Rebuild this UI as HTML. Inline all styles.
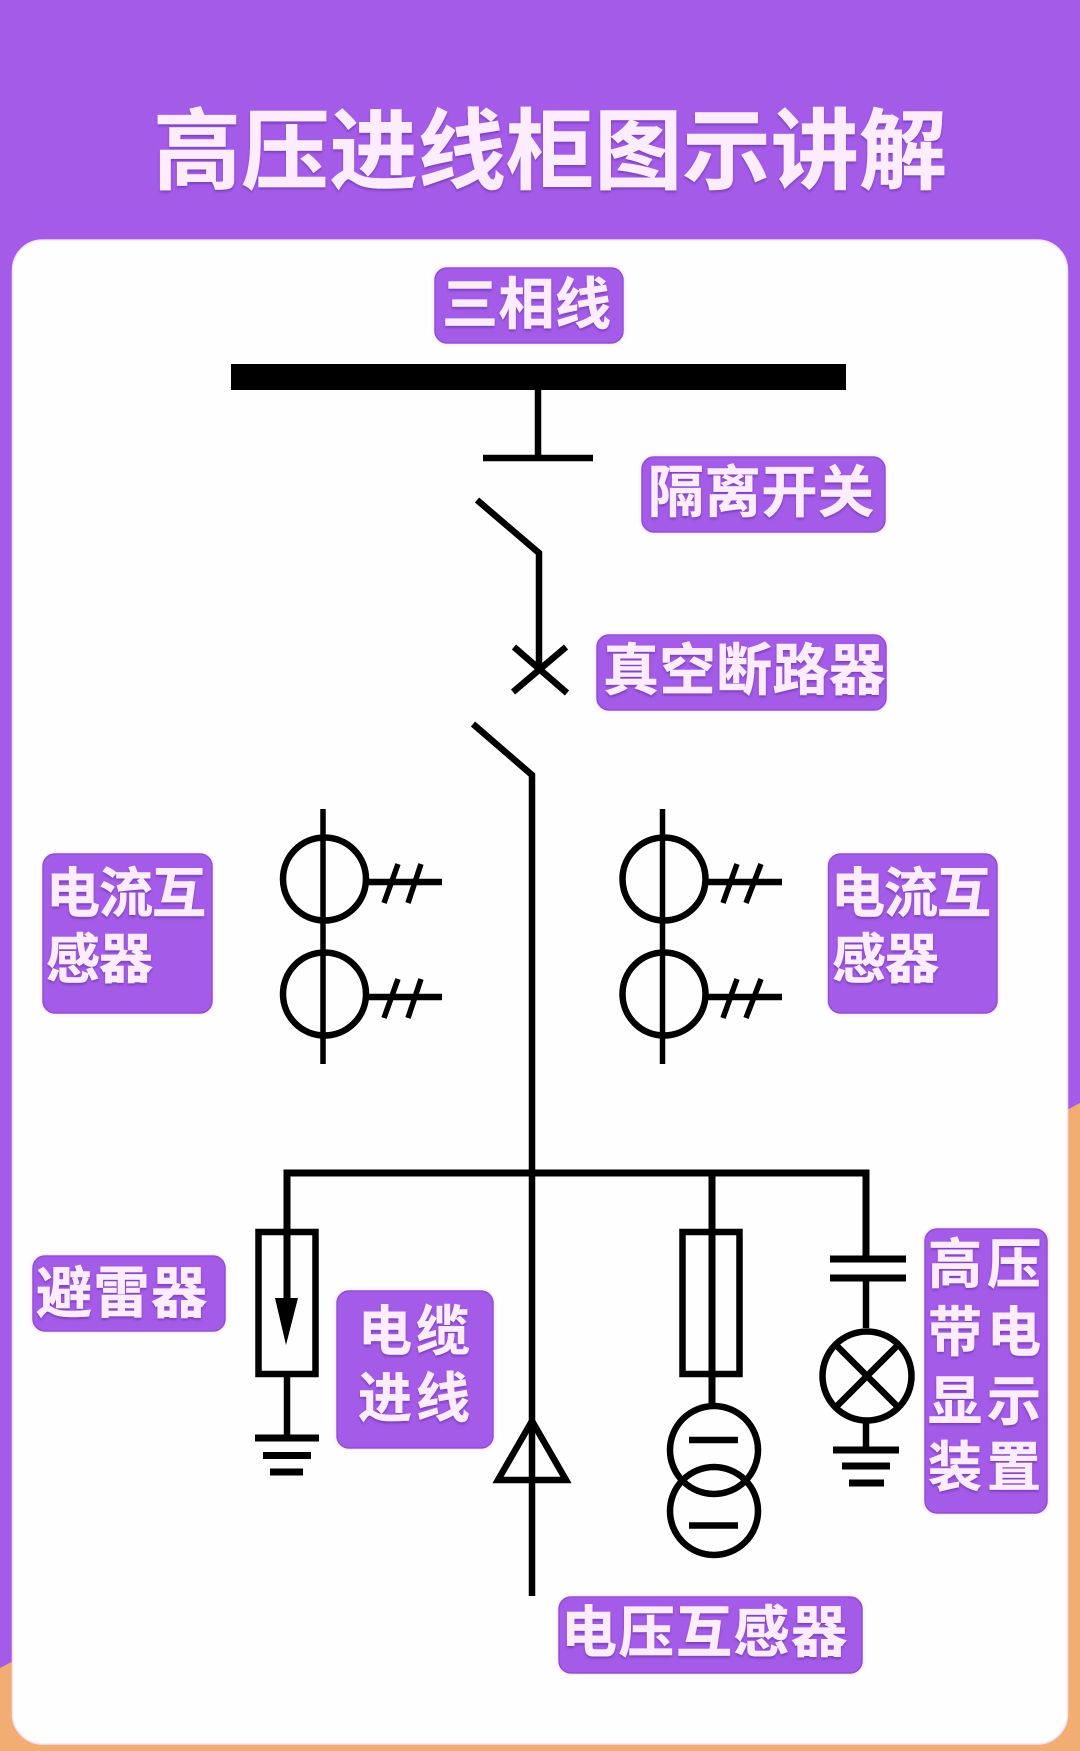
<!DOCTYPE html>
<html lang="zh"><head><meta charset="utf-8"><title>高压进线柜图示讲解</title>
<style>
html,body{margin:0;padding:0;background:#a45ce8;width:1080px;height:1751px;overflow:hidden}
svg{display:block}
text{font-family:"Liberation Sans","Noto Sans CJK SC","WenQuanYi Zen Hei",sans-serif;font-weight:700;fill:#fcecfe;paint-order:stroke;stroke:#fcecfe;stroke-width:.5px}
.l{fill:#a45ce8;stroke:#8d4fd0;stroke-width:1.5;filter:url(#g)}
.w{fill:none;stroke:#000;stroke-width:6.500;stroke-linejoin:miter}
.t{filter:url(#s)}
</style></head><body>
<svg width="1080" height="1751" viewBox="0 0 1080 1751" xmlns="http://www.w3.org/2000/svg">
<defs>
<filter id="g" x="-10%" y="-10%" width="120%" height="120%"><feDropShadow dx="0" dy="0" stdDeviation="2" flood-color="#f3d4ff"/></filter>
<filter id="s" x="-5%" y="-10%" width="110%" height="125%"><feDropShadow dx="0" dy="2" stdDeviation="1.2" flood-color="#6b35a8" flood-opacity=".75"/></filter>
</defs>
<rect width="1080" height="1751" fill="#a45ce8"/>
<polygon points="0,1668 1080,1103 1080,1751 0,1751" fill="#f2ae72"/>
<rect x="12.500" y="240" width="1055" height="1504" rx="30" fill="#fefefe" stroke="#f4e2fb" stroke-width="1.500"/>

<text class="t" x="153" y="182" font-size="88" textLength="794">高压进线柜图示讲解</text>

<rect class="l" x="435" y="268" width="188" height="75" rx="12"/>
<text class="t" x="442" y="324" font-size="56" textLength="169">三相线</text>

<rect x="231" y="364" width="615" height="26" fill="#000"/>
<path class="w" d="M538 390V458M483 458H593"/>
<path class="w" d="M477 500L539 553V668M514 647L567 693M513 692L566 647"/>
<path class="w" d="M473 724L532 775V1596"/>

<rect class="l" x="642" y="457" width="243" height="75" rx="12"/>
<text class="t" x="648" y="512" font-size="56" textLength="226">隔离开关</text>
<rect class="l" x="597" y="635" width="289" height="75" rx="12"/>
<text class="t" x="603" y="690" font-size="56" textLength="282">真空断路器</text>

<g>
<path class="w" style="stroke-width:5.500" d="M323 809V1064"/>
<circle class="w" cx="324.500" cy="879" r="41.500"/>
<circle class="w" cx="324.500" cy="994" r="41.500"/>
<path class="w" d="M368 882H442M368 997H442"/>
<path class="w" style="stroke-width:5.500" d="M398 864L384 903M421 864L408 903M398 979L384 1018M421 979L408 1018"/>
</g>
<g>
<path class="w" style="stroke-width:5.500" d="M662.500 809V1064"/>
<circle class="w" cx="664" cy="879" r="41.500"/>
<circle class="w" cx="664" cy="994" r="41.500"/>
<path class="w" d="M708 882H782M708 997H782"/>
<path class="w" style="stroke-width:5.500" d="M737 864L723 903M761 864L746 903M737 979L723 1018M761 979L746 1018"/>
</g>

<rect class="l" x="43" y="854" width="169" height="159" rx="12"/>
<text class="t" x="46" y="912" font-size="54" textLength="160">电流互</text>
<text class="t" x="46" y="978" font-size="54" textLength="107">感器</text>
<rect class="l" x="828.500" y="854" width="168.500" height="159" rx="12"/>
<text class="t" x="831" y="912" font-size="54" textLength="160">电流互</text>
<text class="t" x="832" y="978" font-size="54" textLength="107">感器</text>

<path class="w" style="stroke-width:7" d="M287 1298V1173H866V1259M712 1173V1403"/>
<rect class="w" x="258.500" y="1232" width="57" height="142"/>
<polygon points="275,1298 298,1298 286,1345" fill="#000"/>
<path class="w" d="M287 1377V1438"/>
<path class="w" style="stroke-width:7" d="M255 1438H319M263 1455.500H311M270 1472H303"/>

<polygon class="w" points="532,1421 566,1480 498,1480"/>

<rect class="w" x="682.500" y="1232" width="57" height="142"/>
<circle class="w" cx="714" cy="1450" r="44"/>
<circle class="w" cx="714" cy="1511" r="44"/>
<path class="w" d="M689 1440H738M689 1525.500H738"/>

<path class="w" style="stroke-width:7" d="M830 1259H906M830 1278H906"/>
<path class="w" d="M866 1278V1328M866 1423V1450"/>
<circle class="w" cx="867" cy="1376" r="44.500"/>
<path class="w" d="M836 1345L898 1407M898 1345L836 1407"/>
<path class="w" style="stroke-width:7" d="M833 1450H899M842 1466H890M849 1483H884"/>

<rect class="l" x="33" y="1256" width="192" height="75" rx="12"/>
<text class="t" x="36" y="1313" font-size="56" textLength="171">避雷器</text>
<rect class="l" x="337" y="1291" width="156" height="157" rx="12"/>
<text class="t" x="358" y="1350" font-size="54" textLength="112">电缆</text>
<text class="t" x="358" y="1417" font-size="54" textLength="112">进线</text>
<rect class="l" x="925" y="1229" width="122" height="284" rx="12"/>
<text class="t" x="928" y="1283" font-size="54" textLength="113">高压</text>
<text class="t" x="928" y="1351" font-size="54" textLength="113">带电</text>
<text class="t" x="928" y="1420" font-size="54" textLength="113">显示</text>
<text class="t" x="928" y="1486" font-size="54" textLength="113">装置</text>
<rect class="l" x="559" y="1597" width="303" height="76" rx="12"/>
<text class="t" x="561" y="1652" font-size="56" textLength="286">电压互感器</text>
</svg>
</body></html>
